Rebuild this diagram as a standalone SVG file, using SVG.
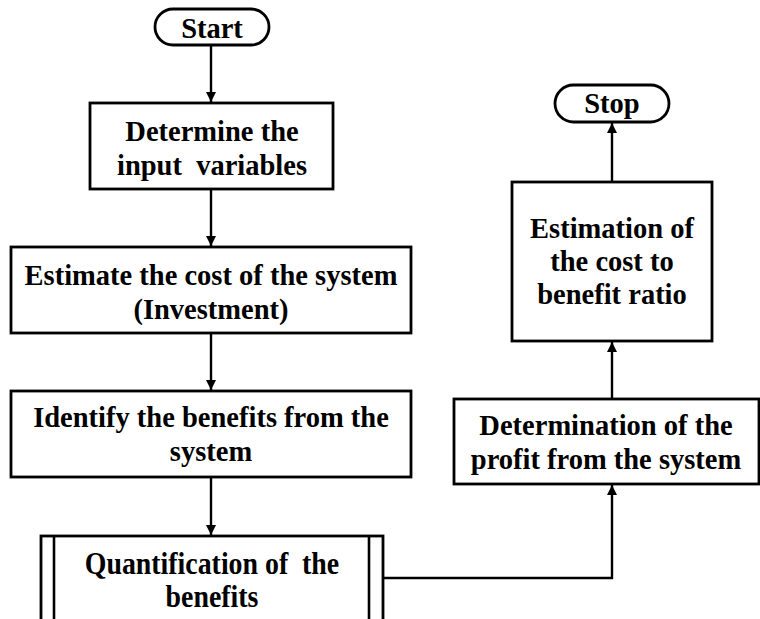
<svg xmlns="http://www.w3.org/2000/svg" width="760" height="619" viewBox="0 0 760 619">
  <defs>
    <marker id="arrow" viewBox="0 0 10 10" refX="10" refY="5" markerWidth="12" markerHeight="10" markerUnits="userSpaceOnUse" orient="auto">
      <path d="M0,0 L10,5 L0,10 Z" fill="#000"/>
    </marker>
    <style>
      .box { fill: #fff; stroke: #000; stroke-width: 2.8; }
      .line { fill: none; stroke: #000; stroke-width: 2.6; }
      .edge { fill: none; stroke: #000; stroke-width: 2.4; marker-end: url(#arrow); }
      text { font-family: 'Liberation Serif', 'Times New Roman', serif; font-weight: bold; font-size: 28.5px; fill: #000; text-anchor: middle; }
      .tall { font-size: 32px; }
    </style>
  </defs>
  <rect width="760" height="619" fill="#fff"/>

  <!-- flow connectors -->
  <g id="connectors">
    <path class="edge" d="M211,45 V102"/>
    <path class="edge" d="M211,189 V246"/>
    <path class="edge" d="M211,333 V390"/>
    <path class="edge" d="M211,477 V535"/>
    <path class="edge" d="M383,578 H612 V485"/>
    <path class="edge" d="M612,399 V342"/>
    <path class="edge" d="M612,182 V123"/>
  </g>

  <g id="start">
    <rect class="box" x="155" y="9" width="114" height="36" rx="18"/>
    <text x="212" y="38">Start</text>
  </g>

  <g id="input-variables">
    <rect class="box" x="90" y="103" width="243" height="86"/>
    <text x="212" y="141">Determine the</text>
    <text x="212" y="175" xml:space="preserve">input  variables</text>
  </g>

  <g id="cost">
    <rect class="box" x="11" y="247" width="400" height="86"/>
    <text x="211" y="285">Estimate the cost of the system</text>
    <text x="211" y="319">(Investment)</text>
  </g>

  <g id="benefits">
    <rect class="box" x="11" y="391" width="400" height="86"/>
    <text x="211" y="427">Identify the benefits from the</text>
    <text x="211" y="461">system</text>
  </g>

  <!-- predefined-process box, runs past the bottom edge -->
  <g id="quantification">
    <rect class="box" x="41" y="536" width="342" height="110"/>
    <line class="line" x1="54" y1="536" x2="54" y2="646"/>
    <line class="line" x1="369" y1="536" x2="369" y2="646"/>
    <g transform="translate(212,0) scale(0.87,1)">
      <text class="tall" x="0" y="574" xml:space="preserve">Quantification of  the</text>
      <text class="tall" x="0" y="607">benefits</text>
    </g>
  </g>

  <g id="profit">
    <rect class="box" x="454" y="399" width="305" height="85"/>
    <text x="606" y="435">Determination of the</text>
    <text x="606" y="469">profit from the system</text>
  </g>

  <g id="ratio">
    <rect class="box" x="512" y="182" width="200" height="159"/>
    <text x="612" y="238">Estimation of</text>
    <text x="612" y="271">the cost to</text>
    <text x="612" y="304">benefit ratio</text>
  </g>

  <g id="stop">
    <rect class="box" x="555" y="85" width="114" height="37" rx="18.5"/>
    <text x="612" y="113">Stop</text>
  </g>
</svg>
